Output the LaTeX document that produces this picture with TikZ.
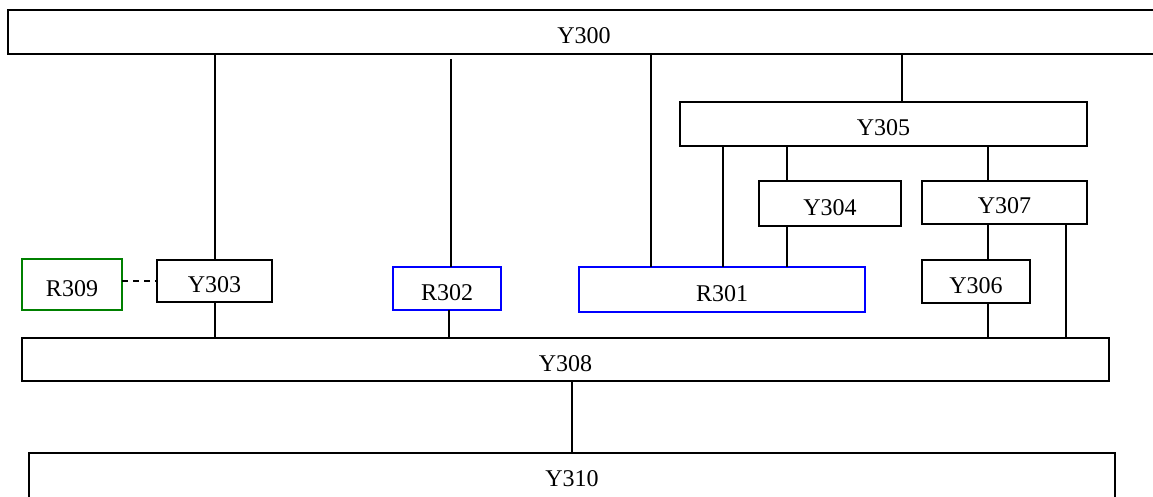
\documentclass[tikz,border=0pt]{standalone}
\usepackage{fontspec}
\setmainfont{Liberation Serif}
\definecolor{rgreen}{RGB}{0,128,0}
\definecolor{rblue}{RGB}{0,0,255}
\tikzset{
  box/.style={draw=black, line width=1.3pt, rectangle, inner sep=0pt, outer sep=0pt, text height=23pt, text depth=0pt, font=\fontsize{24}{28}\selectfont},
  greenbox/.style={box, draw=rgreen, line width=1.6pt},
  bluebox/.style={box, draw=rblue, line width=1.6pt},
  wire/.style={line width=1.3pt},
  dashwire/.style={line width=1.3pt, dash pattern=on 6pt off 5pt}
}
\begin{document}
\begin{tikzpicture}[x=1pt,y=-1pt]
\useasboundingbox (0,0) rectangle (1153,497);
\clip (0,0) rectangle (1153,497);
\fill[white] (0,0) rectangle (1153,497);
% nodes
\node[box, minimum width=1152pt, minimum height=44pt] (Y300) at (584,32) {Y300};
\node[box, minimum width=407pt, minimum height=44pt] (Y305) at (883.5,124) {Y305};
\node[box, minimum width=142pt, minimum height=45pt] (Y304) at (830,203.5) {Y304};
\node[box, minimum width=165pt, minimum height=43pt] (Y307) at (1004.5,202.5) {Y307};
\node[box, minimum width=108pt, minimum height=43pt] (Y306) at (976,281.5) {Y306};
\node[greenbox, minimum width=100pt, minimum height=51pt] (R309) at (72,284.5) {R309};
\node[box, minimum width=115pt, minimum height=42pt] (Y303) at (214.5,281) {Y303};
\node[bluebox, minimum width=108pt, minimum height=43pt] (R302) at (447,288.5) {R302};
\node[bluebox, minimum width=286pt, minimum height=45pt] (R301) at (722,289.5) {R301};
\node[box, minimum width=1087pt, minimum height=43pt] (Y308) at (565.5,359.5) {Y308};
\node[box, text height=17pt, minimum width=1086pt, minimum height=50pt] (Y310) at (572,478) {Y310};
% x positions
\coordinate (xa) at (215,0);
\coordinate (xb) at (451,0);
\coordinate (xc) at (651,0);
\coordinate (xd) at (902,0);
\coordinate (xe) at (723,0);
\coordinate (xf) at (787,0);
\coordinate (xg) at (988,0);
\coordinate (xh) at (1066,0);
\coordinate (xi) at (449,0);
\coordinate (xj) at (572,0);
\coordinate (gapend) at (451,59);
% connectors
\draw[wire] (Y300.south -| xa) -- (Y303.north -| xa);
\draw[wire] (gapend) -- (R302.north -| xb);
\draw[wire] (Y300.south -| xc) -- (R301.north -| xc);
\draw[wire] (Y300.south -| xd) -- (Y305.north -| xd);
\draw[wire] (Y305.south -| xe) -- (R301.north -| xe);
\draw[wire] (Y305.south -| xf) -- (Y304.north -| xf);
\draw[wire] (Y304.south -| xf) -- (R301.north -| xf);
\draw[wire] (Y305.south -| xg) -- (Y307.north -| xg);
\draw[wire] (Y307.south -| xg) -- (Y306.north -| xg);
\draw[wire] (Y306.south -| xg) -- (Y308.north -| xg);
\draw[wire] (Y307.south -| xh) -- (Y308.north -| xh);
\draw[wire] (Y303.south -| xa) -- (Y308.north -| xa);
\draw[wire] (R302.south -| xi) -- (Y308.north -| xi);
\draw[wire] (Y308.south -| xj) -- (Y310.north -| xj);
\draw[dashwire] (R309.east |- Y303.west) -- (Y303.west);
\end{tikzpicture}
\end{document}
